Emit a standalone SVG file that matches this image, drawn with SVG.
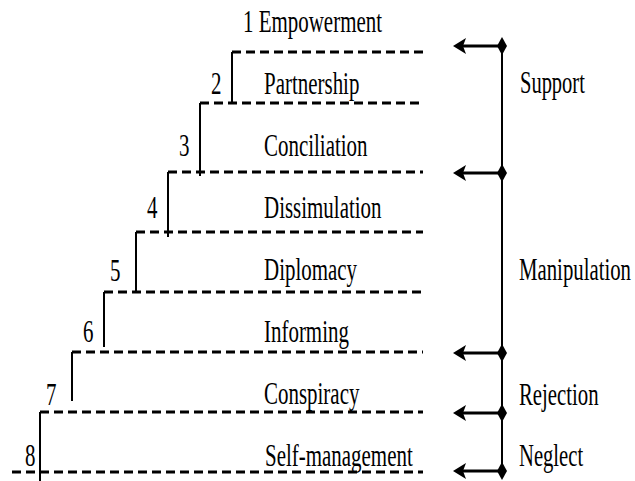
<svg xmlns="http://www.w3.org/2000/svg" width="635" height="481" viewBox="0 0 635 481">
  <style>
    text { font-family: "Liberation Serif", "Times New Roman", serif; font-size: 32px; fill: #000; }
    .dash { stroke: #000; stroke-width: 3; stroke-dasharray: 9 5; fill: none; }
    .riser { stroke: #000; stroke-width: 2; fill: none; }
    .arrow { stroke: #000; stroke-width: 3; fill: none; marker-start: url(#diamond); marker-end: url(#head); }
    .spine { stroke: #000; stroke-width: 2; fill: none; }
  </style>
  <defs>
    <marker id="head" markerUnits="userSpaceOnUse" viewBox="0 -9 14 18" refX="8" refY="0" markerWidth="14" markerHeight="18" orient="auto">
      <path d="M0,-8 L13,0 L0,8 L3,0 Z" fill="#000"/>
    </marker>
    <marker id="diamond" markerUnits="userSpaceOnUse" viewBox="-6 -10 12 20" refX="0" refY="0" markerWidth="12" markerHeight="20" orient="0">
      <path d="M0,-9 L5,0 L0,9 L-5,0 Z" fill="#000"/>
    </marker>
  </defs>

  <g id="ladder">
    <line class="dash" x1="232" y1="52" x2="423" y2="52"/>
    <line class="dash" x1="200" y1="103" x2="423" y2="103"/>
    <line class="dash" x1="168" y1="172" x2="423" y2="172"/>
    <line class="dash" x1="136" y1="232" x2="423" y2="232"/>
    <line class="dash" x1="104" y1="292" x2="423" y2="292"/>
    <line class="dash" x1="72" y1="352" x2="423" y2="352"/>
    <line class="dash" x1="40" y1="412" x2="423" y2="412"/>
    <line class="dash" x1="12" y1="472" x2="423" y2="472"/>
    <line class="riser" x1="232" y1="52" x2="232" y2="103"/>
    <line class="riser" x1="200" y1="103" x2="200" y2="176"/>
    <line class="riser" x1="168" y1="172" x2="168" y2="237"/>
    <line class="riser" x1="136" y1="232" x2="136" y2="292"/>
    <line class="riser" x1="104" y1="292" x2="104" y2="347"/>
    <line class="riser" x1="72" y1="352" x2="72" y2="401"/>
    <line class="riser" x1="40" y1="412" x2="40" y2="481"/>
  </g>

  <g id="level-1"><text transform="translate(243 32) scale(0.655 1)">1 Empowerment</text></g>
  <g id="level-2"><text transform="translate(211 94) scale(0.655 1)">2</text><text transform="translate(264 94) scale(0.655 1)">Partnership</text></g>
  <g id="level-3"><text transform="translate(179 156) scale(0.655 1)">3</text><text transform="translate(264 156) scale(0.655 1)">Conciliation</text></g>
  <g id="level-4"><text transform="translate(147 218) scale(0.655 1)">4</text><text transform="translate(264 218) scale(0.655 1)">Dissimulation</text></g>
  <g id="level-5"><text transform="translate(110 281) scale(0.655 1)">5</text><text transform="translate(264 280) scale(0.655 1)">Diplomacy</text></g>
  <g id="level-6"><text transform="translate(83 342) scale(0.655 1)">6</text><text transform="translate(264 342) scale(0.655 1)">Informing</text></g>
  <g id="level-7"><text transform="translate(46 405) scale(0.655 1)">7</text><text transform="translate(264 404) scale(0.655 1)">Conspiracy</text></g>
  <g id="level-8"><text transform="translate(25 466) scale(0.655 1)">8</text><text transform="translate(265 466) scale(0.655 1)">Self-management</text></g>

  <g id="cat-support"><text transform="translate(520 93) scale(0.64 1)">Support</text></g>
  <g id="cat-manipulation"><text transform="translate(519 280) scale(0.65 1)">Manipulation</text></g>
  <g id="cat-rejection"><text transform="translate(519 405) scale(0.65 1)">Rejection</text></g>
  <g id="cat-neglect"><text transform="translate(519 466) scale(0.645 1)">Neglect</text></g>

  <g id="connectors">
    <line class="spine" x1="502" y1="46" x2="502" y2="471"/>
    <line class="arrow" x1="502" y1="46" x2="458" y2="46"/>
    <line class="arrow" x1="502" y1="173" x2="458" y2="173"/>
    <line class="arrow" x1="502" y1="353" x2="458" y2="353"/>
    <line class="arrow" x1="502" y1="413" x2="458" y2="413"/>
    <line class="arrow" x1="502" y1="471" x2="458" y2="471"/>
  </g>
</svg>
